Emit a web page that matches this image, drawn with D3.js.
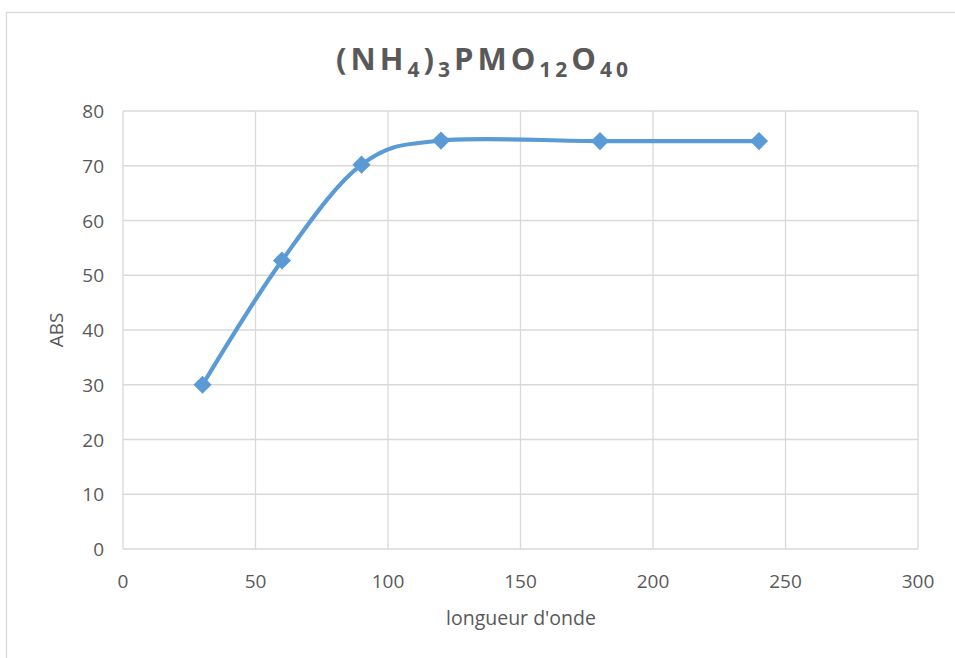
<!DOCTYPE html>
<html>
<head>
<meta charset="utf-8">
<script src="https://cdn.jsdelivr.net/npm/d3@7"></script>
<style>
  body { margin: 0; background: #fff; }
  text { font-family: "Open Sans", "Noto Sans", sans-serif; fill: #595959; }
</style>
</head>
<body>
<div id="chart"></div>
<script>
// wavelength vs absorbance
const wavelengths = [30, 60, 90, 120, 180, 240]
const absValues = [30, 52.7, 70.2, 74.6, 74.5, 74.5]
const xTicks = [0, 50, 100, 150, 200, 250, 300]
const yTicks = [0, 10, 20, 30, 40, 50, 60, 70, 80]

let width = 955
let height = 658
let margin = { left: 123, right: 37, top: 111, bottom: 109 }

var svg = d3.select("#chart")
    .append("svg")
    .attr("width", width)
    .attr("height", height)

// chart frame
svg.append("rect")
    .attr("x", 6.5).attr("y", 12.5)
    .attr("width", width + 10).attr("height", height + 10)
    .attr("fill", "none")
    .attr("stroke", "#d9d9d9")
    .attr("stroke-width", 1.3)

var x = d3.scaleLinear().domain([0, 300]).range([margin.left, width - margin.right])
var y = d3.scaleLinear().domain([0, 80]).range([height - margin.bottom, margin.top])

// gridlines
svg.append("g")
    .selectAll("line.v")
    .data(xTicks)
    .enter()
    .append("line")
    .attr("x1", d => x(d)).attr("x2", d => x(d))
    .attr("y1", y(0)).attr("y2", y(80))
    .attr("stroke", "#d9d9d9").attr("stroke-width", 1.3)

svg.append("g")
    .selectAll("line.h")
    .data(yTicks)
    .enter()
    .append("line")
    .attr("x1", x(0)).attr("x2", x(300))
    .attr("y1", d => y(d)).attr("y2", d => y(d))
    .attr("stroke", "#d9d9d9").attr("stroke-width", 1.3)

// tick labels
svg.append("g")
    .selectAll("text")
    .data(xTicks)
    .enter()
    .append("text")
    .attr("x", d => x(d))
    .attr("y", y(0) + 39)
    .attr("text-anchor", "middle")
    .style("font-size", "19px")
    .text(d => d)

svg.append("g")
    .selectAll("text")
    .data(yTicks)
    .enter()
    .append("text")
    .attr("x", x(0) - 19)
    .attr("y", d => y(d) + 7)
    .attr("text-anchor", "end")
    .style("font-size", "19px")
    .text(d => d)

// axis titles
svg.append("text")
    .attr("x", 521)
    .attr("y", 625)
    .attr("text-anchor", "middle")
    .style("font-size", "19.5px")
    .text("longueur d'onde")

svg.append("text")
    .attr("transform", "translate(63," + (y(0) + y(80)) / 2 + ") rotate(-90)")
    .attr("text-anchor", "middle")
    .style("font-size", "19px")
    .text("ABS")

// title with subscripts
const title = svg.append("text")
    .attr("x", 484)
    .attr("y", 70)
    .attr("text-anchor", "middle")
    .style("font-size", "31px")
    .style("font-weight", "bold")
    .style("letter-spacing", "4px")
const parts = [["(NH", false], ["4", true], [")", false], ["3", true], ["PMO", false], ["12", true], ["O", false], ["40", true]]
let shifted = false
parts.forEach(p => {
    let dy = 0
    if (p[1] && !shifted) dy = 7
    if (!p[1] && shifted) dy = -7
    shifted = p[1]
    title.append("tspan")
        .attr("dy", dy)
        .style("font-size", p[1] ? "21px" : "31px")
        .text(p[0])
})

// series
const pts = wavelengths.map((w, i) => [w, absValues[i]])
var line = d3.line()
    .x(d => x(d[0]))
    .y(d => y(d[1]))
    .curve(d3.curveCardinal.tension(0))

svg.append("path")
    .datum(pts)
    .attr("d", line)
    .attr("fill", "none")
    .attr("stroke", "#5b9bd5")
    .attr("stroke-width", 4.2)
    .attr("stroke-linecap", "round")

svg.append("g")
    .selectAll("path")
    .data(pts)
    .enter()
    .append("path")
    .attr("d", d3.symbol().type(d3.symbolDiamond2).size(210))
    .attr("transform", d => "translate(" + x(d[0]) + "," + y(d[1]) + ")")
    .attr("fill", "#5b9bd5")
</script>
</body>
</html>
